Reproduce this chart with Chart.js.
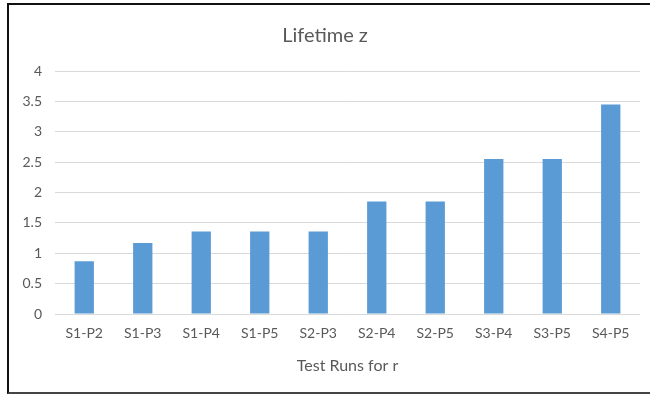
<!DOCTYPE html>
<html lang="en">
<head>
  <meta charset="UTF-8">
  <title>Lifetime z</title>
  <script src="https://cdn.jsdelivr.net/npm/chart.js@4.4.1/dist/chart.umd.min.js"></script>
  <style>
    html, body { margin: 0; padding: 0; background: #fff; overflow: hidden; }
    .frame {
      position: absolute; left: 7px; top: 3px; width: 700px; height: 391px;
      box-sizing: border-box;
      border-left: 2px solid #111; border-top: 2px solid #111; border-bottom: 2px solid #444;
    }
    .wrap { position: absolute; left: 0; top: 0; width: 650px; height: 394px; }
  </style>
</head>
<body>
  <div class="frame"></div>
  <div class="wrap"><canvas id="chart" width="650" height="394"></canvas></div>

  <script>
    const runs = ['S1-P2', 'S1-P3', 'S1-P4', 'S1-P5', 'S2-P3', 'S2-P4', 'S2-P5', 'S3-P4', 'S3-P5', 'S4-P5'];
    const lifetime = [0.87, 1.17, 1.36, 1.36, 1.36, 1.85, 1.85, 2.55, 2.55, 3.45];
    const yTicks = [0, 0.5, 1, 1.5, 2, 2.5, 3, 3.5, 4];

    const textGray = '#595959';
    Chart.defaults.font.family = 'Lato, "Open Sans", sans-serif';

    new Chart(document.getElementById('chart'), {
      type: 'bar',
      data: {
        labels: runs,
        datasets: [{
          label: 'Lifetime z',
          data: lifetime,
          backgroundColor: '#5b9bd5',
          borderWidth: 0,
          categoryPercentage: 1,
          barPercentage: 0.33
        }]
      },
      options: {
        responsive: false,
        animation: false,
        layout: { padding: { left: 10, right: 10, top: 0, bottom: 0 } },
        plugins: {
          legend: { display: false },
          tooltip: { enabled: false },
          title: {
            display: true,
            text: 'Lifetime z',
            color: textGray,
            font: { size: 20, weight: 'normal' },
            padding: { top: 24, bottom: 23 }
          }
        },
        scales: {
          y: {
            min: 0,
            max: 4,
            afterFit: s => { s.width = 45; },
            afterBuildTicks: s => { s.ticks = yTicks.map(v => ({ value: v })); },
            border: { display: false },
            grid: { color: '#d9d9d9', drawTicks: false, lineWidth: 1 },
            ticks: {
              color: textGray,
              font: { size: 14 },
              padding: 13,
              callback: v => String(v)
            }
          },
          x: {
            afterFit: s => { s.height = 80; },
            border: { display: false },
            grid: { display: false, drawTicks: false },
            ticks: { color: textGray, font: { size: 14 }, padding: 11, maxRotation: 0 },
            title: {
              display: true,
              text: 'Test Runs for r',
              color: textGray,
              font: { size: 16 },
              padding: { top: 0, bottom: 19 }
            }
          }
        }
      }
    });
  </script>
</body>
</html>
